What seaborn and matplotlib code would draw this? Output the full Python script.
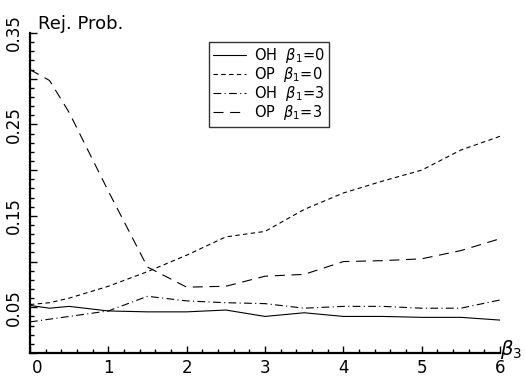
import numpy as np
import pandas as pd
import seaborn as sns
import matplotlib.pyplot as plt
from matplotlib.ticker import MultipleLocator, FuncFormatter

# beta_3 grid and rejection probabilities
beta3 = [0, 0.25, 0.5, 1, 1.5, 2, 2.5, 3, 3.5, 4, 4.5, 5, 5.5, 6]
oh_b0 = [0.052, 0.049, 0.051, 0.046, 0.045, 0.045, 0.047, 0.040, 0.044, 0.040, 0.040, 0.039, 0.039, 0.036]
op_b0 = [0.053, 0.055, 0.060, 0.073, 0.089, 0.107, 0.127, 0.133, 0.157, 0.175, 0.188, 0.200, 0.222, 0.237]
oh_b3 = [0.034, 0.037, 0.040, 0.046, 0.062, 0.057, 0.055, 0.054, 0.049, 0.051, 0.051, 0.049, 0.049, 0.058]
op_b3 = [0.310, 0.298, 0.263, 0.177, 0.094, 0.072, 0.073, 0.084, 0.086, 0.100, 0.101, 0.103, 0.112, 0.125]

labels = ["OH  $\\beta_1$=0", "OP  $\\beta_1$=0", "OH  $\\beta_1$=3", "OP  $\\beta_1$=3"]
series = [oh_b0, op_b0, oh_b3, op_b3]

df = pd.concat([pd.DataFrame({'beta3': beta3, 'rej': vals, 'series': lab})
                for lab, vals in zip(labels, series)], ignore_index=True)

sns.set_style("ticks")
plt.rcParams['font.family'] = ['DejaVu Sans']
plt.rcParams['mathtext.fontset'] = 'dejavusans'
plt.rcParams['text.color'] = 'black'

fig = plt.figure(figsize=(5.25, 3.77), dpi=100)
ax = fig.add_axes([30 / 525, 24 / 377, 470 / 525, 320 / 377])

dashes = {labels[0]: '', labels[1]: (4, 3), labels[2]: (7, 3, 1, 3), labels[3]: (9, 6)}
sns.lineplot(data=df, x='beta3', y='rej', style='series', style_order=labels,
             dashes=dashes, color='black', linewidth=0.8, ax=ax)

ax.set_xlim(0, 6)
ax.set_ylim(0, 0.35)
ax.set_xlabel('')
ax.set_ylabel('')

for s in ['top', 'right']:
    ax.spines[s].set_visible(False)
for s in ['left', 'bottom']:
    ax.spines[s].set_linewidth(1.6)
    ax.spines[s].set_color('black')

ax.xaxis.set_major_locator(MultipleLocator(1))
ax.xaxis.set_minor_locator(MultipleLocator(0.2))
ax.yaxis.set_major_locator(MultipleLocator(0.05))
ax.yaxis.set_minor_locator(MultipleLocator(0.01))

def ylab(v, pos):
    k = int(round(v / 0.05))
    return f"{v:.2f}" if k % 2 == 1 else ""

def xlab(v, pos):
    k = int(round(v))
    return "" if k == 0 else f"{k}"

ax.yaxis.set_major_formatter(FuncFormatter(ylab))
ax.xaxis.set_major_formatter(FuncFormatter(xlab))
ax.tick_params(which='major', direction='in', length=5, width=1, color='black',
               labelsize=12, labelcolor='black')
ax.tick_params(which='minor', direction='in', length=3, width=1, color='black')
ax.tick_params(axis='x', pad=4)
ax.tick_params(axis='y', pad=5)
for t in ax.get_yticklabels():
    t.set_rotation(90)
    t.set_va('center')

# the "0" sits a little right of the y axis in the reference
ax.annotate("0", xy=(0, 0), xycoords=('data', 'axes fraction'), xytext=(7, -5.6),
            textcoords='offset pixels', ha='center', va='top', fontsize=12)

ax.text(0.017, 1.0, "Rej. Prob.", transform=ax.transAxes, fontsize=13,
        ha='left', va='bottom')
ax.text(1.0, 0.012, "$\\beta_3$", transform=ax.transAxes, fontsize=14,
        ha='left', va='center')

handles, labs = ax.get_legend_handles_labels()
leg = ax.legend(handles, labs, loc='upper left', bbox_to_anchor=(0.381, 0.972),
                borderaxespad=0, fontsize=10.5, frameon=True, fancybox=False,
                handlelength=2.2, labelspacing=0.0, borderpad=0.3, handletextpad=0.55)
leg.get_frame().set_edgecolor('black')
leg.get_frame().set_linewidth(1.0)
for ln in leg.get_lines():
    ln.set_linewidth(0.8)
    ln.set_color('black')

fig.savefig("out.png", dpi=100)
